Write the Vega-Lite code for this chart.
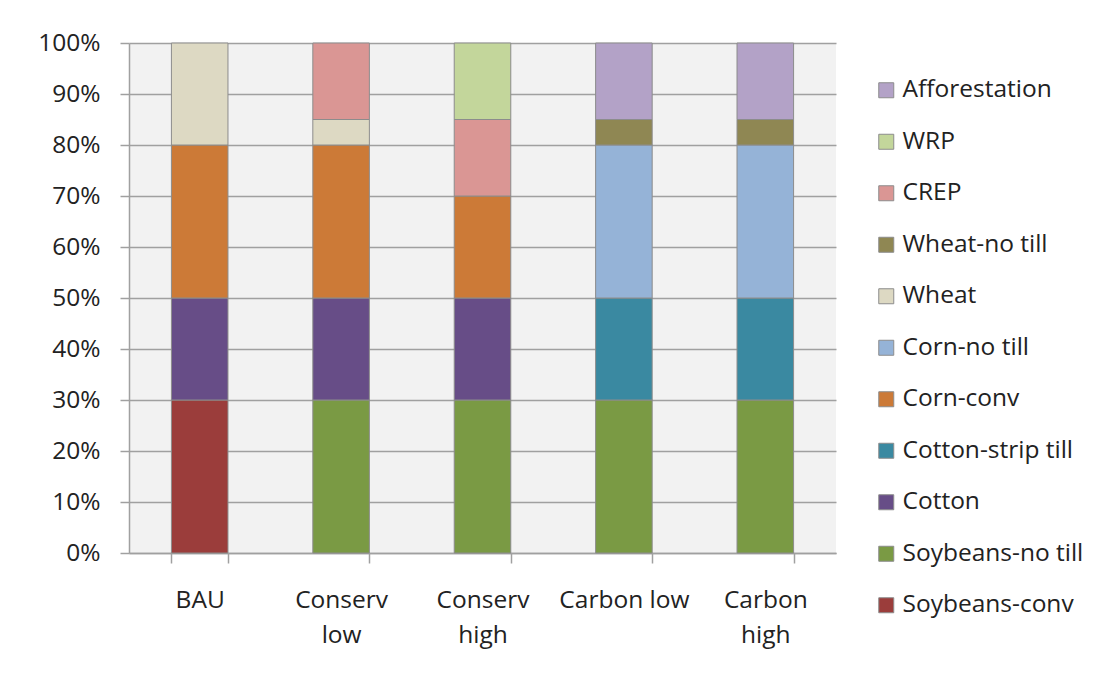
{
  "$schema": "https://vega.github.io/schema/vega-lite/v6.json",
  "width": 707,
  "height": 510,
  "autosize": {"type": "none"},
  "padding": {"left": 129, "top": 43, "right": 271, "bottom": 124},
  "background": "white",
  "config": {
    "font": "Open Sans",
    "view": {"fill": "#f2f2f2", "stroke": null}
  },
  "data": {
    "values": [
      {"scenario": "BAU", "crop": "Soybeans-conv", "share": 30},
      {"scenario": "BAU", "crop": "Cotton", "share": 20},
      {"scenario": "BAU", "crop": "Corn-conv", "share": 30},
      {"scenario": "BAU", "crop": "Wheat", "share": 20},
      {"scenario": "Conserv low", "crop": "Soybeans-no till", "share": 30},
      {"scenario": "Conserv low", "crop": "Cotton", "share": 20},
      {"scenario": "Conserv low", "crop": "Corn-conv", "share": 30},
      {"scenario": "Conserv low", "crop": "Wheat", "share": 5},
      {"scenario": "Conserv low", "crop": "CREP", "share": 15},
      {"scenario": "Conserv high", "crop": "Soybeans-no till", "share": 30},
      {"scenario": "Conserv high", "crop": "Cotton", "share": 20},
      {"scenario": "Conserv high", "crop": "Corn-conv", "share": 20},
      {"scenario": "Conserv high", "crop": "CREP", "share": 15},
      {"scenario": "Conserv high", "crop": "WRP", "share": 15},
      {"scenario": "Carbon low", "crop": "Soybeans-no till", "share": 30},
      {"scenario": "Carbon low", "crop": "Cotton-strip till", "share": 20},
      {"scenario": "Carbon low", "crop": "Corn-no till", "share": 30},
      {"scenario": "Carbon low", "crop": "Wheat-no till", "share": 5},
      {"scenario": "Carbon low", "crop": "Afforestation", "share": 15},
      {"scenario": "Carbon high", "crop": "Soybeans-no till", "share": 30},
      {"scenario": "Carbon high", "crop": "Cotton-strip till", "share": 20},
      {"scenario": "Carbon high", "crop": "Corn-no till", "share": 30},
      {"scenario": "Carbon high", "crop": "Wheat-no till", "share": 5},
      {"scenario": "Carbon high", "crop": "Afforestation", "share": 15}
    ]
  },
  "transform": [
    {
      "calculate": "indexof(['Soybeans-conv','Soybeans-no till','Cotton','Cotton-strip till','Corn-conv','Corn-no till','Wheat','Wheat-no till','CREP','WRP','Afforestation'], datum.crop)",
      "as": "stackOrder"
    }
  ],
  "mark": {"type": "bar", "stroke": "#8c8c8c", "strokeWidth": 1},
  "encoding": {
    "x": {
      "field": "scenario",
      "type": "nominal",
      "sort": ["BAU", "Conserv low", "Conserv high", "Carbon low", "Carbon high"],
      "scale": {"paddingInner": 0.6, "paddingOuter": 0.3},
      "axis": {
        "title": null,
        "labelAngle": 0,
        "labelFontSize": 24.5,
        "labelColor": "#222222",
        "labelPadding": 25,
        "labelLineHeight": 35,
        "labelExpr": "datum.label == 'Carbon low' ? datum.label : split(datum.label, ' ')",
        "tickBand": "extent",
        "tickSize": 10,
        "tickColor": "#a0a0a0",
        "tickWidth": 1.5,
        "domainColor": "#a0a0a0",
        "domainWidth": 1.5
      }
    },
    "y": {
      "field": "share",
      "type": "quantitative",
      "stack": "normalize",
      "scale": {"domain": [0, 1]},
      "axis": {
        "title": null,
        "format": ".0%",
        "values": [0, 0.1, 0.2, 0.3, 0.4, 0.5, 0.6, 0.7, 0.8, 0.9, 1],
        "labelFontSize": 24.5,
        "labelColor": "#222222",
        "labelPadding": 20,
        "tickSize": 9,
        "tickColor": "#a0a0a0",
        "tickWidth": 1.5,
        "domainColor": "#a0a0a0",
        "domainWidth": 1.5,
        "grid": true,
        "gridColor": "#a0a0a0",
        "gridWidth": 1.5
      }
    },
    "color": {
      "field": "crop",
      "type": "nominal",
      "scale": {
        "domain": ["Afforestation", "WRP", "CREP", "Wheat-no till", "Wheat", "Corn-no till", "Corn-conv", "Cotton-strip till", "Cotton", "Soybeans-no till", "Soybeans-conv"],
        "range": ["#b3a2c7", "#c3d69b", "#da9694", "#8f8753", "#ddd9c3", "#95b3d7", "#cc7a37", "#3a89a1", "#674d87", "#7a9a44", "#9b3d3b"]
      },
      "legend": {
        "title": null,
        "orient": "none",
        "legendX": 745,
        "legendY": 35,
        "symbolType": "square",
        "symbolSize": 225,
        "symbolStrokeColor": "#8c8c8c",
        "symbolStrokeWidth": 1,
        "labelFontSize": 24.5,
        "labelColor": "#222222",
        "labelOffset": 4,
        "rowPadding": 26.5,
        "labelLimit": 300
      }
    },
    "order": {"field": "stackOrder", "type": "quantitative"}
  }
}
